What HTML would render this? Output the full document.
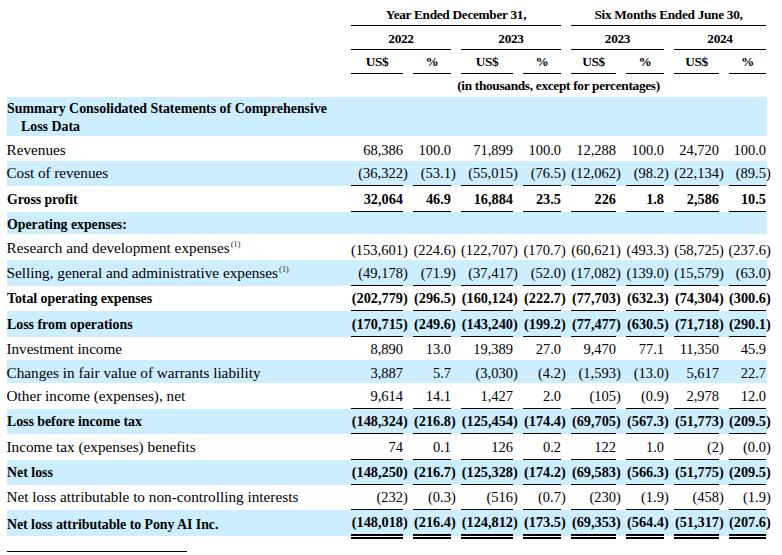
<!DOCTYPE html>
<html><head><meta charset="utf-8"><style>
html,body{margin:0;padding:0;background:#fff;width:782px;height:555px;overflow:hidden}
body{position:relative;font-family:"Liberation Serif",serif;color:#000}
.b,.l,.t{position:absolute}
.l{background:#000}
.t{line-height:20px;white-space:nowrap}
sup{font-size:9px;line-height:0;vertical-align:0;position:relative;top:-6.5px;margin-left:1px;color:#333;letter-spacing:-0.3px}
</style></head><body>
<div class="t" style="left:351px;width:210px;top:5px;font-size:13.3px;text-align:center;font-weight:bold;letter-spacing:-0.3px;">Year Ended December 31,</div>
<div class="t" style="left:571px;width:195px;top:5px;font-size:13.3px;text-align:center;font-weight:bold;letter-spacing:-0.3px;">Six Months Ended June 30,</div>
<div class="l" style="left:351px;top:25px;width:210px;height:1px"></div>
<div class="l" style="left:571px;top:25px;width:195px;height:1px"></div>
<div class="t" style="left:351px;width:100px;top:29px;font-size:13.3px;text-align:center;font-weight:bold;letter-spacing:-0.3px;">2022</div>
<div class="l" style="left:351px;top:49px;width:100px;height:1px"></div>
<div class="t" style="left:461px;width:100px;top:29px;font-size:13.3px;text-align:center;font-weight:bold;letter-spacing:-0.3px;">2023</div>
<div class="l" style="left:461px;top:49px;width:100px;height:1px"></div>
<div class="t" style="left:571px;width:93px;top:29px;font-size:13.3px;text-align:center;font-weight:bold;letter-spacing:-0.3px;">2023</div>
<div class="l" style="left:571px;top:49px;width:93px;height:1px"></div>
<div class="t" style="left:674px;width:92px;top:29px;font-size:13.3px;text-align:center;font-weight:bold;letter-spacing:-0.3px;">2024</div>
<div class="l" style="left:674px;top:49px;width:92px;height:1px"></div>
<div class="t" style="left:351px;width:52px;top:52px;font-size:13.3px;text-align:center;font-weight:bold;letter-spacing:-0.3px;">US$</div>
<div class="l" style="left:351px;top:73px;width:52px;height:1px"></div>
<div class="t" style="left:413px;width:38px;top:52px;font-size:13.3px;text-align:center;font-weight:bold;letter-spacing:-0.3px;">%</div>
<div class="l" style="left:413px;top:73px;width:38px;height:1px"></div>
<div class="t" style="left:461px;width:52px;top:52px;font-size:13.3px;text-align:center;font-weight:bold;letter-spacing:-0.3px;">US$</div>
<div class="l" style="left:461px;top:73px;width:52px;height:1px"></div>
<div class="t" style="left:523px;width:38px;top:52px;font-size:13.3px;text-align:center;font-weight:bold;letter-spacing:-0.3px;">%</div>
<div class="l" style="left:523px;top:73px;width:38px;height:1px"></div>
<div class="t" style="left:571px;width:45px;top:52px;font-size:13.3px;text-align:center;font-weight:bold;letter-spacing:-0.3px;">US$</div>
<div class="l" style="left:571px;top:73px;width:45px;height:1px"></div>
<div class="t" style="left:626px;width:38px;top:52px;font-size:13.3px;text-align:center;font-weight:bold;letter-spacing:-0.3px;">%</div>
<div class="l" style="left:626px;top:73px;width:38px;height:1px"></div>
<div class="t" style="left:674px;width:45px;top:52px;font-size:13.3px;text-align:center;font-weight:bold;letter-spacing:-0.3px;">US$</div>
<div class="l" style="left:674px;top:73px;width:45px;height:1px"></div>
<div class="t" style="left:729px;width:37px;top:52px;font-size:13.3px;text-align:center;font-weight:bold;letter-spacing:-0.3px;">%</div>
<div class="l" style="left:729px;top:73px;width:37px;height:1px"></div>
<div class="t" style="left:351px;width:415px;top:76px;font-size:13.3px;text-align:center;font-weight:bold;letter-spacing:-0.3px;">(in thousands, except for percentages)</div>
<div class="b" style="left:7px;top:97px;width:760px;height:39px;background:#cceeff"></div>
<div class="b" style="left:7px;top:161px;width:760px;height:25px;background:#cceeff"></div>
<div class="b" style="left:7px;top:212px;width:760px;height:22px;background:#cceeff"></div>
<div class="b" style="left:7px;top:260px;width:760px;height:26px;background:#cceeff"></div>
<div class="b" style="left:7px;top:311px;width:760px;height:26px;background:#cceeff"></div>
<div class="b" style="left:7px;top:360px;width:760px;height:23px;background:#cceeff"></div>
<div class="b" style="left:7px;top:409px;width:760px;height:25px;background:#cceeff"></div>
<div class="b" style="left:7px;top:460px;width:760px;height:25px;background:#cceeff"></div>
<div class="b" style="left:7px;top:510px;width:760px;height:26px;background:#cceeff"></div>
<div class="t" style="left:7px;top:99px;font-size:13.9px;font-weight:bold;">Summary Consolidated Statements of Comprehensive</div>
<div class="t" style="left:21px;top:117px;font-size:13.9px;font-weight:bold;">Loss Data</div>
<div class="t" style="left:6.5px;top:140px;font-size:15.25px;">Revenues</div>
<div class="t" style="right:379px;top:140px;font-size:14.5px;text-align:right;">68,386</div>
<div class="t" style="right:331px;top:140px;font-size:14.5px;text-align:right;">100.0</div>
<div class="t" style="right:269px;top:140px;font-size:14.5px;text-align:right;">71,899</div>
<div class="t" style="right:221px;top:140px;font-size:14.5px;text-align:right;">100.0</div>
<div class="t" style="right:166px;top:140px;font-size:14.5px;text-align:right;">12,288</div>
<div class="t" style="right:118px;top:140px;font-size:14.5px;text-align:right;">100.0</div>
<div class="t" style="right:63px;top:140px;font-size:14.5px;text-align:right;">24,720</div>
<div class="t" style="right:16px;top:140px;font-size:14.5px;text-align:right;">100.0</div>
<div class="t" style="left:6.5px;top:163px;font-size:15.25px;letter-spacing:-0.06px;">Cost of revenues</div>
<div class="t" style="right:379px;top:163px;font-size:14.5px;text-align:right;">(36,322</div>
<div class="t" style="left:403px;top:163px;font-size:14.5px;">)</div>
<div class="t" style="right:331px;top:163px;font-size:14.5px;text-align:right;">(53.1</div>
<div class="t" style="left:451px;top:163px;font-size:14.5px;">)</div>
<div class="t" style="right:269px;top:163px;font-size:14.5px;text-align:right;">(55,015</div>
<div class="t" style="left:513px;top:163px;font-size:14.5px;">)</div>
<div class="t" style="right:221px;top:163px;font-size:14.5px;text-align:right;">(76.5</div>
<div class="t" style="left:561px;top:163px;font-size:14.5px;">)</div>
<div class="t" style="right:166px;top:163px;font-size:14.5px;text-align:right;">(12,062</div>
<div class="t" style="left:616px;top:163px;font-size:14.5px;">)</div>
<div class="t" style="right:118px;top:163px;font-size:14.5px;text-align:right;">(98.2</div>
<div class="t" style="left:664px;top:163px;font-size:14.5px;">)</div>
<div class="t" style="right:63px;top:163px;font-size:14.5px;text-align:right;">(22,134</div>
<div class="t" style="left:719px;top:163px;font-size:14.5px;">)</div>
<div class="t" style="right:16px;top:163px;font-size:14.5px;text-align:right;">(89.5</div>
<div class="t" style="left:766px;top:163px;font-size:14.5px;">)</div>
<div class="l" style="left:351px;top:185px;width:52px;height:1px"></div>
<div class="l" style="left:413px;top:185px;width:38px;height:1px"></div>
<div class="l" style="left:461px;top:185px;width:52px;height:1px"></div>
<div class="l" style="left:523px;top:185px;width:38px;height:1px"></div>
<div class="l" style="left:571px;top:185px;width:45px;height:1px"></div>
<div class="l" style="left:626px;top:185px;width:38px;height:1px"></div>
<div class="l" style="left:674px;top:185px;width:45px;height:1px"></div>
<div class="l" style="left:729px;top:185px;width:37px;height:1px"></div>
<div class="t" style="left:7px;top:190px;font-size:13.9px;font-weight:bold;letter-spacing:-0.09px;">Gross profit</div>
<div class="t" style="right:379px;top:189px;font-size:14.3px;text-align:right;font-weight:bold;">32,064</div>
<div class="t" style="right:331px;top:189px;font-size:14.3px;text-align:right;font-weight:bold;">46.9</div>
<div class="t" style="right:269px;top:189px;font-size:14.3px;text-align:right;font-weight:bold;">16,884</div>
<div class="t" style="right:221px;top:189px;font-size:14.3px;text-align:right;font-weight:bold;">23.5</div>
<div class="t" style="right:166px;top:189px;font-size:14.3px;text-align:right;font-weight:bold;">226</div>
<div class="t" style="right:118px;top:189px;font-size:14.3px;text-align:right;font-weight:bold;">1.8</div>
<div class="t" style="right:63px;top:189px;font-size:14.3px;text-align:right;font-weight:bold;">2,586</div>
<div class="t" style="right:16px;top:189px;font-size:14.3px;text-align:right;font-weight:bold;">10.5</div>
<div class="l" style="left:351px;top:211px;width:52px;height:1px"></div>
<div class="l" style="left:413px;top:211px;width:38px;height:1px"></div>
<div class="l" style="left:461px;top:211px;width:52px;height:1px"></div>
<div class="l" style="left:523px;top:211px;width:38px;height:1px"></div>
<div class="l" style="left:571px;top:211px;width:45px;height:1px"></div>
<div class="l" style="left:626px;top:211px;width:38px;height:1px"></div>
<div class="l" style="left:674px;top:211px;width:45px;height:1px"></div>
<div class="l" style="left:729px;top:211px;width:37px;height:1px"></div>
<div class="t" style="left:7px;top:215px;font-size:13.9px;font-weight:bold;letter-spacing:-0.055px;">Operating expenses:</div>
<div class="t" style="left:6.5px;top:238px;font-size:15.25px;">Research and development expenses<sup>(1)</sup></div>
<div class="t" style="right:379px;top:240px;font-size:14.5px;text-align:right;">(153,601</div>
<div class="t" style="left:403px;top:240px;font-size:14.5px;">)</div>
<div class="t" style="right:331px;top:240px;font-size:14.5px;text-align:right;">(224.6</div>
<div class="t" style="left:451px;top:240px;font-size:14.5px;">)</div>
<div class="t" style="right:269px;top:240px;font-size:14.5px;text-align:right;">(122,707</div>
<div class="t" style="left:513px;top:240px;font-size:14.5px;">)</div>
<div class="t" style="right:221px;top:240px;font-size:14.5px;text-align:right;">(170.7</div>
<div class="t" style="left:561px;top:240px;font-size:14.5px;">)</div>
<div class="t" style="right:166px;top:240px;font-size:14.5px;text-align:right;">(60,621</div>
<div class="t" style="left:616px;top:240px;font-size:14.5px;">)</div>
<div class="t" style="right:118px;top:240px;font-size:14.5px;text-align:right;">(493.3</div>
<div class="t" style="left:664px;top:240px;font-size:14.5px;">)</div>
<div class="t" style="right:63px;top:240px;font-size:14.5px;text-align:right;">(58,725</div>
<div class="t" style="left:719px;top:240px;font-size:14.5px;">)</div>
<div class="t" style="right:16px;top:240px;font-size:14.5px;text-align:right;">(237.6</div>
<div class="t" style="left:766px;top:240px;font-size:14.5px;">)</div>
<div class="t" style="left:6.5px;top:263px;font-size:15.25px;">Selling, general and administrative expenses<sup>(1)</sup></div>
<div class="t" style="right:379px;top:263px;font-size:14.5px;text-align:right;">(49,178</div>
<div class="t" style="left:403px;top:263px;font-size:14.5px;">)</div>
<div class="t" style="right:331px;top:263px;font-size:14.5px;text-align:right;">(71.9</div>
<div class="t" style="left:451px;top:263px;font-size:14.5px;">)</div>
<div class="t" style="right:269px;top:263px;font-size:14.5px;text-align:right;">(37,417</div>
<div class="t" style="left:513px;top:263px;font-size:14.5px;">)</div>
<div class="t" style="right:221px;top:263px;font-size:14.5px;text-align:right;">(52.0</div>
<div class="t" style="left:561px;top:263px;font-size:14.5px;">)</div>
<div class="t" style="right:166px;top:263px;font-size:14.5px;text-align:right;">(17,082</div>
<div class="t" style="left:616px;top:263px;font-size:14.5px;">)</div>
<div class="t" style="right:118px;top:263px;font-size:14.5px;text-align:right;">(139.0</div>
<div class="t" style="left:664px;top:263px;font-size:14.5px;">)</div>
<div class="t" style="right:63px;top:263px;font-size:14.5px;text-align:right;">(15,579</div>
<div class="t" style="left:719px;top:263px;font-size:14.5px;">)</div>
<div class="t" style="right:16px;top:263px;font-size:14.5px;text-align:right;">(63.0</div>
<div class="t" style="left:766px;top:263px;font-size:14.5px;">)</div>
<div class="l" style="left:351px;top:285px;width:52px;height:1px"></div>
<div class="l" style="left:413px;top:285px;width:38px;height:1px"></div>
<div class="l" style="left:461px;top:285px;width:52px;height:1px"></div>
<div class="l" style="left:523px;top:285px;width:38px;height:1px"></div>
<div class="l" style="left:571px;top:285px;width:45px;height:1px"></div>
<div class="l" style="left:626px;top:285px;width:38px;height:1px"></div>
<div class="l" style="left:674px;top:285px;width:45px;height:1px"></div>
<div class="l" style="left:729px;top:285px;width:37px;height:1px"></div>
<div class="t" style="left:7px;top:289px;font-size:13.9px;font-weight:bold;letter-spacing:-0.043px;">Total operating expenses</div>
<div class="t" style="right:379px;top:288px;font-size:14.3px;text-align:right;font-weight:bold;">(202,779</div>
<div class="t" style="left:403px;top:288px;font-size:14.3px;font-weight:bold;">)</div>
<div class="t" style="right:331px;top:288px;font-size:14.3px;text-align:right;font-weight:bold;">(296.5</div>
<div class="t" style="left:451px;top:288px;font-size:14.3px;font-weight:bold;">)</div>
<div class="t" style="right:269px;top:288px;font-size:14.3px;text-align:right;font-weight:bold;">(160,124</div>
<div class="t" style="left:513px;top:288px;font-size:14.3px;font-weight:bold;">)</div>
<div class="t" style="right:221px;top:288px;font-size:14.3px;text-align:right;font-weight:bold;">(222.7</div>
<div class="t" style="left:561px;top:288px;font-size:14.3px;font-weight:bold;">)</div>
<div class="t" style="right:166px;top:288px;font-size:14.3px;text-align:right;font-weight:bold;">(77,703</div>
<div class="t" style="left:616px;top:288px;font-size:14.3px;font-weight:bold;">)</div>
<div class="t" style="right:118px;top:288px;font-size:14.3px;text-align:right;font-weight:bold;">(632.3</div>
<div class="t" style="left:664px;top:288px;font-size:14.3px;font-weight:bold;">)</div>
<div class="t" style="right:63px;top:288px;font-size:14.3px;text-align:right;font-weight:bold;">(74,304</div>
<div class="t" style="left:719px;top:288px;font-size:14.3px;font-weight:bold;">)</div>
<div class="t" style="right:16px;top:288px;font-size:14.3px;text-align:right;font-weight:bold;">(300.6</div>
<div class="t" style="left:766px;top:288px;font-size:14.3px;font-weight:bold;">)</div>
<div class="l" style="left:351px;top:310px;width:52px;height:1px"></div>
<div class="l" style="left:413px;top:310px;width:38px;height:1px"></div>
<div class="l" style="left:461px;top:310px;width:52px;height:1px"></div>
<div class="l" style="left:523px;top:310px;width:38px;height:1px"></div>
<div class="l" style="left:571px;top:310px;width:45px;height:1px"></div>
<div class="l" style="left:626px;top:310px;width:38px;height:1px"></div>
<div class="l" style="left:674px;top:310px;width:45px;height:1px"></div>
<div class="l" style="left:729px;top:310px;width:37px;height:1px"></div>
<div class="t" style="left:7px;top:315px;font-size:13.9px;font-weight:bold;">Loss from operations</div>
<div class="t" style="right:379px;top:314px;font-size:14.3px;text-align:right;font-weight:bold;">(170,715</div>
<div class="t" style="left:403px;top:314px;font-size:14.3px;font-weight:bold;">)</div>
<div class="t" style="right:331px;top:314px;font-size:14.3px;text-align:right;font-weight:bold;">(249.6</div>
<div class="t" style="left:451px;top:314px;font-size:14.3px;font-weight:bold;">)</div>
<div class="t" style="right:269px;top:314px;font-size:14.3px;text-align:right;font-weight:bold;">(143,240</div>
<div class="t" style="left:513px;top:314px;font-size:14.3px;font-weight:bold;">)</div>
<div class="t" style="right:221px;top:314px;font-size:14.3px;text-align:right;font-weight:bold;">(199.2</div>
<div class="t" style="left:561px;top:314px;font-size:14.3px;font-weight:bold;">)</div>
<div class="t" style="right:166px;top:314px;font-size:14.3px;text-align:right;font-weight:bold;">(77,477</div>
<div class="t" style="left:616px;top:314px;font-size:14.3px;font-weight:bold;">)</div>
<div class="t" style="right:118px;top:314px;font-size:14.3px;text-align:right;font-weight:bold;">(630.5</div>
<div class="t" style="left:664px;top:314px;font-size:14.3px;font-weight:bold;">)</div>
<div class="t" style="right:63px;top:314px;font-size:14.3px;text-align:right;font-weight:bold;">(71,718</div>
<div class="t" style="left:719px;top:314px;font-size:14.3px;font-weight:bold;">)</div>
<div class="t" style="right:16px;top:314px;font-size:14.3px;text-align:right;font-weight:bold;">(290.1</div>
<div class="t" style="left:766px;top:314px;font-size:14.3px;font-weight:bold;">)</div>
<div class="l" style="left:351px;top:336px;width:52px;height:1px"></div>
<div class="l" style="left:413px;top:336px;width:38px;height:1px"></div>
<div class="l" style="left:461px;top:336px;width:52px;height:1px"></div>
<div class="l" style="left:523px;top:336px;width:38px;height:1px"></div>
<div class="l" style="left:571px;top:336px;width:45px;height:1px"></div>
<div class="l" style="left:626px;top:336px;width:38px;height:1px"></div>
<div class="l" style="left:674px;top:336px;width:45px;height:1px"></div>
<div class="l" style="left:729px;top:336px;width:37px;height:1px"></div>
<div class="t" style="left:6.5px;top:339px;font-size:15.25px;letter-spacing:-0.06px;">Investment income</div>
<div class="t" style="right:379px;top:339px;font-size:14.5px;text-align:right;">8,890</div>
<div class="t" style="right:331px;top:339px;font-size:14.5px;text-align:right;">13.0</div>
<div class="t" style="right:269px;top:339px;font-size:14.5px;text-align:right;">19,389</div>
<div class="t" style="right:221px;top:339px;font-size:14.5px;text-align:right;">27.0</div>
<div class="t" style="right:166px;top:339px;font-size:14.5px;text-align:right;">9,470</div>
<div class="t" style="right:118px;top:339px;font-size:14.5px;text-align:right;">77.1</div>
<div class="t" style="right:63px;top:339px;font-size:14.5px;text-align:right;">11,350</div>
<div class="t" style="right:16px;top:339px;font-size:14.5px;text-align:right;">45.9</div>
<div class="t" style="left:6.5px;top:363px;font-size:15.25px;">Changes in fair value of warrants liability</div>
<div class="t" style="right:379px;top:363px;font-size:14.5px;text-align:right;">3,887</div>
<div class="t" style="right:331px;top:363px;font-size:14.5px;text-align:right;">5.7</div>
<div class="t" style="right:269px;top:363px;font-size:14.5px;text-align:right;">(3,030</div>
<div class="t" style="left:513px;top:363px;font-size:14.5px;">)</div>
<div class="t" style="right:221px;top:363px;font-size:14.5px;text-align:right;">(4.2</div>
<div class="t" style="left:561px;top:363px;font-size:14.5px;">)</div>
<div class="t" style="right:166px;top:363px;font-size:14.5px;text-align:right;">(1,593</div>
<div class="t" style="left:616px;top:363px;font-size:14.5px;">)</div>
<div class="t" style="right:118px;top:363px;font-size:14.5px;text-align:right;">(13.0</div>
<div class="t" style="left:664px;top:363px;font-size:14.5px;">)</div>
<div class="t" style="right:63px;top:363px;font-size:14.5px;text-align:right;">5,617</div>
<div class="t" style="right:16px;top:363px;font-size:14.5px;text-align:right;">22.7</div>
<div class="t" style="left:6.5px;top:386px;font-size:15.25px;">Other income (expenses), net</div>
<div class="t" style="right:379px;top:386px;font-size:14.5px;text-align:right;">9,614</div>
<div class="t" style="right:331px;top:386px;font-size:14.5px;text-align:right;">14.1</div>
<div class="t" style="right:269px;top:386px;font-size:14.5px;text-align:right;">1,427</div>
<div class="t" style="right:221px;top:386px;font-size:14.5px;text-align:right;">2.0</div>
<div class="t" style="right:166px;top:386px;font-size:14.5px;text-align:right;">(105</div>
<div class="t" style="left:616px;top:386px;font-size:14.5px;">)</div>
<div class="t" style="right:118px;top:386px;font-size:14.5px;text-align:right;">(0.9</div>
<div class="t" style="left:664px;top:386px;font-size:14.5px;">)</div>
<div class="t" style="right:63px;top:386px;font-size:14.5px;text-align:right;">2,978</div>
<div class="t" style="right:16px;top:386px;font-size:14.5px;text-align:right;">12.0</div>
<div class="l" style="left:351px;top:408px;width:52px;height:1px"></div>
<div class="l" style="left:413px;top:408px;width:38px;height:1px"></div>
<div class="l" style="left:461px;top:408px;width:52px;height:1px"></div>
<div class="l" style="left:523px;top:408px;width:38px;height:1px"></div>
<div class="l" style="left:571px;top:408px;width:45px;height:1px"></div>
<div class="l" style="left:626px;top:408px;width:38px;height:1px"></div>
<div class="l" style="left:674px;top:408px;width:45px;height:1px"></div>
<div class="l" style="left:729px;top:408px;width:37px;height:1px"></div>
<div class="t" style="left:7px;top:412px;font-size:13.9px;font-weight:bold;letter-spacing:-0.048px;">Loss before income tax</div>
<div class="t" style="right:379px;top:411px;font-size:14.3px;text-align:right;font-weight:bold;">(148,324</div>
<div class="t" style="left:403px;top:411px;font-size:14.3px;font-weight:bold;">)</div>
<div class="t" style="right:331px;top:411px;font-size:14.3px;text-align:right;font-weight:bold;">(216.8</div>
<div class="t" style="left:451px;top:411px;font-size:14.3px;font-weight:bold;">)</div>
<div class="t" style="right:269px;top:411px;font-size:14.3px;text-align:right;font-weight:bold;">(125,454</div>
<div class="t" style="left:513px;top:411px;font-size:14.3px;font-weight:bold;">)</div>
<div class="t" style="right:221px;top:411px;font-size:14.3px;text-align:right;font-weight:bold;">(174.4</div>
<div class="t" style="left:561px;top:411px;font-size:14.3px;font-weight:bold;">)</div>
<div class="t" style="right:166px;top:411px;font-size:14.3px;text-align:right;font-weight:bold;">(69,705</div>
<div class="t" style="left:616px;top:411px;font-size:14.3px;font-weight:bold;">)</div>
<div class="t" style="right:118px;top:411px;font-size:14.3px;text-align:right;font-weight:bold;">(567.3</div>
<div class="t" style="left:664px;top:411px;font-size:14.3px;font-weight:bold;">)</div>
<div class="t" style="right:63px;top:411px;font-size:14.3px;text-align:right;font-weight:bold;">(51,773</div>
<div class="t" style="left:719px;top:411px;font-size:14.3px;font-weight:bold;">)</div>
<div class="t" style="right:16px;top:411px;font-size:14.3px;text-align:right;font-weight:bold;">(209.5</div>
<div class="t" style="left:766px;top:411px;font-size:14.3px;font-weight:bold;">)</div>
<div class="l" style="left:351px;top:433px;width:52px;height:1px"></div>
<div class="l" style="left:413px;top:433px;width:38px;height:1px"></div>
<div class="l" style="left:461px;top:433px;width:52px;height:1px"></div>
<div class="l" style="left:523px;top:433px;width:38px;height:1px"></div>
<div class="l" style="left:571px;top:433px;width:45px;height:1px"></div>
<div class="l" style="left:626px;top:433px;width:38px;height:1px"></div>
<div class="l" style="left:674px;top:433px;width:45px;height:1px"></div>
<div class="l" style="left:729px;top:433px;width:37px;height:1px"></div>
<div class="t" style="left:6.5px;top:437px;font-size:15.25px;">Income tax (expenses) benefits</div>
<div class="t" style="right:379px;top:437px;font-size:14.5px;text-align:right;">74</div>
<div class="t" style="right:331px;top:437px;font-size:14.5px;text-align:right;">0.1</div>
<div class="t" style="right:269px;top:437px;font-size:14.5px;text-align:right;">126</div>
<div class="t" style="right:221px;top:437px;font-size:14.5px;text-align:right;">0.2</div>
<div class="t" style="right:166px;top:437px;font-size:14.5px;text-align:right;">122</div>
<div class="t" style="right:118px;top:437px;font-size:14.5px;text-align:right;">1.0</div>
<div class="t" style="right:63px;top:437px;font-size:14.5px;text-align:right;">(2</div>
<div class="t" style="left:719px;top:437px;font-size:14.5px;">)</div>
<div class="t" style="right:16px;top:437px;font-size:14.5px;text-align:right;">(0.0</div>
<div class="t" style="left:766px;top:437px;font-size:14.5px;">)</div>
<div class="l" style="left:351px;top:459px;width:52px;height:1px"></div>
<div class="l" style="left:413px;top:459px;width:38px;height:1px"></div>
<div class="l" style="left:461px;top:459px;width:52px;height:1px"></div>
<div class="l" style="left:523px;top:459px;width:38px;height:1px"></div>
<div class="l" style="left:571px;top:459px;width:45px;height:1px"></div>
<div class="l" style="left:626px;top:459px;width:38px;height:1px"></div>
<div class="l" style="left:674px;top:459px;width:45px;height:1px"></div>
<div class="l" style="left:729px;top:459px;width:37px;height:1px"></div>
<div class="t" style="left:7px;top:463px;font-size:13.9px;font-weight:bold;">Net loss</div>
<div class="t" style="right:379px;top:462px;font-size:14.3px;text-align:right;font-weight:bold;">(148,250</div>
<div class="t" style="left:403px;top:462px;font-size:14.3px;font-weight:bold;">)</div>
<div class="t" style="right:331px;top:462px;font-size:14.3px;text-align:right;font-weight:bold;">(216.7</div>
<div class="t" style="left:451px;top:462px;font-size:14.3px;font-weight:bold;">)</div>
<div class="t" style="right:269px;top:462px;font-size:14.3px;text-align:right;font-weight:bold;">(125,328</div>
<div class="t" style="left:513px;top:462px;font-size:14.3px;font-weight:bold;">)</div>
<div class="t" style="right:221px;top:462px;font-size:14.3px;text-align:right;font-weight:bold;">(174.2</div>
<div class="t" style="left:561px;top:462px;font-size:14.3px;font-weight:bold;">)</div>
<div class="t" style="right:166px;top:462px;font-size:14.3px;text-align:right;font-weight:bold;">(69,583</div>
<div class="t" style="left:616px;top:462px;font-size:14.3px;font-weight:bold;">)</div>
<div class="t" style="right:118px;top:462px;font-size:14.3px;text-align:right;font-weight:bold;">(566.3</div>
<div class="t" style="left:664px;top:462px;font-size:14.3px;font-weight:bold;">)</div>
<div class="t" style="right:63px;top:462px;font-size:14.3px;text-align:right;font-weight:bold;">(51,775</div>
<div class="t" style="left:719px;top:462px;font-size:14.3px;font-weight:bold;">)</div>
<div class="t" style="right:16px;top:462px;font-size:14.3px;text-align:right;font-weight:bold;">(209.5</div>
<div class="t" style="left:766px;top:462px;font-size:14.3px;font-weight:bold;">)</div>
<div class="l" style="left:351px;top:484px;width:52px;height:1px"></div>
<div class="l" style="left:413px;top:484px;width:38px;height:1px"></div>
<div class="l" style="left:461px;top:484px;width:52px;height:1px"></div>
<div class="l" style="left:523px;top:484px;width:38px;height:1px"></div>
<div class="l" style="left:571px;top:484px;width:45px;height:1px"></div>
<div class="l" style="left:626px;top:484px;width:38px;height:1px"></div>
<div class="l" style="left:674px;top:484px;width:45px;height:1px"></div>
<div class="l" style="left:729px;top:484px;width:37px;height:1px"></div>
<div class="t" style="left:6.5px;top:487px;font-size:15.25px;">Net loss attributable to non-controlling interests</div>
<div class="t" style="right:379px;top:487px;font-size:14.5px;text-align:right;">(232</div>
<div class="t" style="left:403px;top:487px;font-size:14.5px;">)</div>
<div class="t" style="right:331px;top:487px;font-size:14.5px;text-align:right;">(0.3</div>
<div class="t" style="left:451px;top:487px;font-size:14.5px;">)</div>
<div class="t" style="right:269px;top:487px;font-size:14.5px;text-align:right;">(516</div>
<div class="t" style="left:513px;top:487px;font-size:14.5px;">)</div>
<div class="t" style="right:221px;top:487px;font-size:14.5px;text-align:right;">(0.7</div>
<div class="t" style="left:561px;top:487px;font-size:14.5px;">)</div>
<div class="t" style="right:166px;top:487px;font-size:14.5px;text-align:right;">(230</div>
<div class="t" style="left:616px;top:487px;font-size:14.5px;">)</div>
<div class="t" style="right:118px;top:487px;font-size:14.5px;text-align:right;">(1.9</div>
<div class="t" style="left:664px;top:487px;font-size:14.5px;">)</div>
<div class="t" style="right:63px;top:487px;font-size:14.5px;text-align:right;">(458</div>
<div class="t" style="left:719px;top:487px;font-size:14.5px;">)</div>
<div class="t" style="right:16px;top:487px;font-size:14.5px;text-align:right;">(1.9</div>
<div class="t" style="left:766px;top:487px;font-size:14.5px;">)</div>
<div class="l" style="left:351px;top:509px;width:52px;height:1px"></div>
<div class="l" style="left:413px;top:509px;width:38px;height:1px"></div>
<div class="l" style="left:461px;top:509px;width:52px;height:1px"></div>
<div class="l" style="left:523px;top:509px;width:38px;height:1px"></div>
<div class="l" style="left:571px;top:509px;width:45px;height:1px"></div>
<div class="l" style="left:626px;top:509px;width:38px;height:1px"></div>
<div class="l" style="left:674px;top:509px;width:45px;height:1px"></div>
<div class="l" style="left:729px;top:509px;width:37px;height:1px"></div>
<div class="t" style="left:7px;top:515px;font-size:13.9px;font-weight:bold;letter-spacing:-0.055px;">Net loss attributable to Pony AI Inc.</div>
<div class="t" style="right:379px;top:512px;font-size:14.3px;text-align:right;font-weight:bold;">(148,018</div>
<div class="t" style="left:403px;top:512px;font-size:14.3px;font-weight:bold;">)</div>
<div class="t" style="right:331px;top:512px;font-size:14.3px;text-align:right;font-weight:bold;">(216.4</div>
<div class="t" style="left:451px;top:512px;font-size:14.3px;font-weight:bold;">)</div>
<div class="t" style="right:269px;top:512px;font-size:14.3px;text-align:right;font-weight:bold;">(124,812</div>
<div class="t" style="left:513px;top:512px;font-size:14.3px;font-weight:bold;">)</div>
<div class="t" style="right:221px;top:512px;font-size:14.3px;text-align:right;font-weight:bold;">(173.5</div>
<div class="t" style="left:561px;top:512px;font-size:14.3px;font-weight:bold;">)</div>
<div class="t" style="right:166px;top:512px;font-size:14.3px;text-align:right;font-weight:bold;">(69,353</div>
<div class="t" style="left:616px;top:512px;font-size:14.3px;font-weight:bold;">)</div>
<div class="t" style="right:118px;top:512px;font-size:14.3px;text-align:right;font-weight:bold;">(564.4</div>
<div class="t" style="left:664px;top:512px;font-size:14.3px;font-weight:bold;">)</div>
<div class="t" style="right:63px;top:512px;font-size:14.3px;text-align:right;font-weight:bold;">(51,317</div>
<div class="t" style="left:719px;top:512px;font-size:14.3px;font-weight:bold;">)</div>
<div class="t" style="right:16px;top:512px;font-size:14.3px;text-align:right;font-weight:bold;">(207.6</div>
<div class="t" style="left:766px;top:512px;font-size:14.3px;font-weight:bold;">)</div>
<div class="l" style="left:351px;top:534px;width:52px;height:2px"></div>
<div class="l" style="left:351px;top:537px;width:52px;height:2px"></div>
<div class="l" style="left:413px;top:534px;width:38px;height:2px"></div>
<div class="l" style="left:413px;top:537px;width:38px;height:2px"></div>
<div class="l" style="left:461px;top:534px;width:52px;height:2px"></div>
<div class="l" style="left:461px;top:537px;width:52px;height:2px"></div>
<div class="l" style="left:523px;top:534px;width:38px;height:2px"></div>
<div class="l" style="left:523px;top:537px;width:38px;height:2px"></div>
<div class="l" style="left:571px;top:534px;width:45px;height:2px"></div>
<div class="l" style="left:571px;top:537px;width:45px;height:2px"></div>
<div class="l" style="left:626px;top:534px;width:38px;height:2px"></div>
<div class="l" style="left:626px;top:537px;width:38px;height:2px"></div>
<div class="l" style="left:674px;top:534px;width:45px;height:2px"></div>
<div class="l" style="left:674px;top:537px;width:45px;height:2px"></div>
<div class="l" style="left:729px;top:534px;width:37px;height:2px"></div>
<div class="l" style="left:729px;top:537px;width:37px;height:2px"></div>
<div class="l" style="left:7px;top:551px;width:180px;height:1px"></div>
</body></html>
